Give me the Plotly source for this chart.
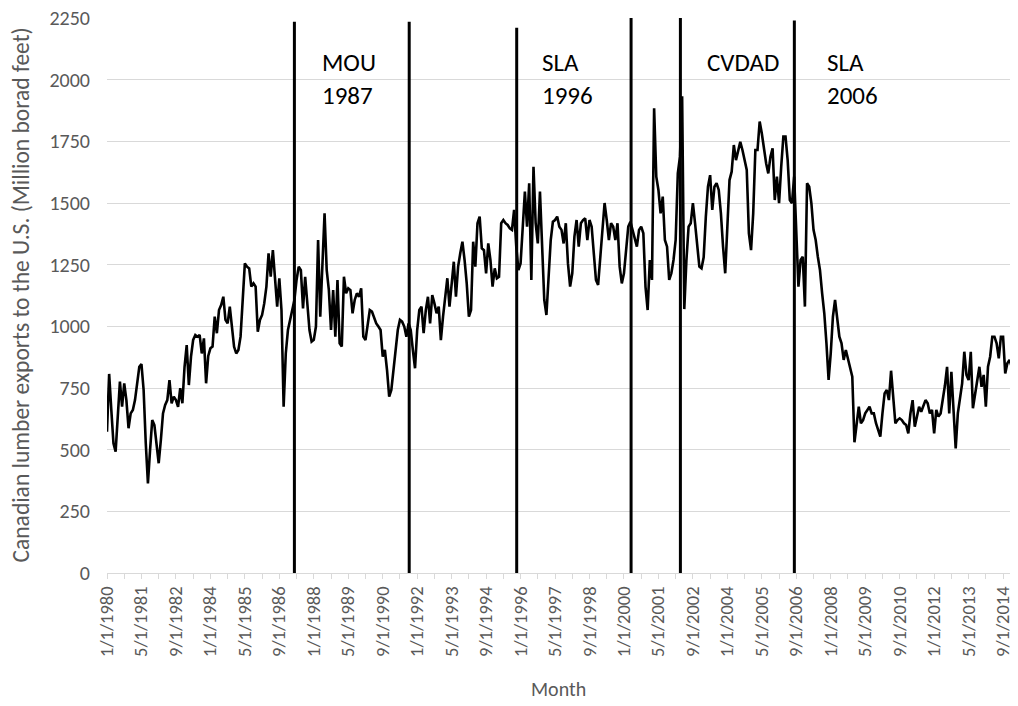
import plotly.graph_objects as go

start_year, start_month = 1980, 1
exports = [
    573, 807, 661, 526, 492, 634, 776, 674, 769, 701, 587, 647,
    661, 701, 769, 836, 847, 742, 526, 363, 499, 620, 600, 512,
    445, 539, 647, 681, 701, 782, 688, 715, 701, 674, 749, 688,
    836, 924, 762, 877, 945, 965, 958, 965, 890, 951, 769, 880,
    911, 918, 1039, 972, 1066, 1086, 1120, 1026, 1012, 1080, 985, 917,
    890, 904, 958, 1093, 1255, 1242, 1235, 1161, 1174, 1161, 978, 1026,
    1046, 1093, 1161, 1296, 1201, 1309, 1201, 1080, 1195, 1066, 674, 890,
    985, 1026, 1080, 1107, 1188, 1242, 1228, 1073, 1201, 1093, 985, 938,
    945, 999, 1350, 1039, 1255, 1458, 1228, 1147, 985, 1147, 958, 1188,
    931, 918, 1201, 1134, 1154, 1147, 1053, 1107, 1134, 1120, 1154, 958,
    944, 1012, 1066, 1060, 1039, 1012, 999, 985, 877, 904, 823, 715,
    742, 823, 904, 985, 1026, 1019, 999, 958, 1012, 985, 904, 830,
    985, 1066, 1080, 972, 1066, 1120, 1012, 1127, 1093, 1053, 1080, 944,
    1039, 1107, 1195, 1080, 1174, 1262, 1120, 1242, 1296, 1343, 1269, 1174,
    1039, 1066, 1343, 1242, 1418, 1445, 1316, 1309, 1215, 1336, 1269, 1161,
    1235, 1195, 1201, 1418, 1431, 1418, 1411, 1397, 1391, 1472, 1323, 1228,
    1255, 1418, 1546, 1404, 1580, 1188, 1647, 1418, 1336, 1546, 1323, 1107,
    1046, 1215, 1350, 1424, 1431, 1445, 1404, 1391, 1336, 1418, 1255, 1161,
    1215, 1364, 1431, 1323, 1418, 1431, 1438, 1350, 1431, 1404, 1310, 1188,
    1168, 1269, 1404, 1500, 1431, 1350, 1418, 1404, 1350, 1418, 1242, 1174,
    1215, 1310, 1404, 1424, 1391, 1350, 1323, 1391, 1404, 1377, 1160, 1066,
    1269, 1188, 1884, 1607, 1553, 1458, 1526, 1350, 1323, 1188, 1215, 1269,
    1350, 1620, 1688, 1933, 1070, 1269, 1404, 1418, 1499, 1418, 1323, 1242,
    1235, 1280, 1444, 1566, 1613, 1472, 1566, 1580, 1553, 1458, 1323, 1215,
    1404, 1593, 1627, 1735, 1674, 1715, 1748, 1715, 1674, 1634, 1377, 1309,
    1458, 1715, 1715, 1830, 1782, 1715, 1661, 1620, 1688, 1722, 1512, 1607,
    1499, 1647, 1769, 1769, 1674, 1512, 1499, 1607, 1377, 1161, 1269, 1282,
    1080, 1580, 1566, 1499, 1391, 1350, 1282, 1228, 1134, 1053, 931, 783,
    891, 1039, 1107, 1026, 958, 931, 864, 904, 864, 830, 796, 530,
    600, 674, 607, 620, 647, 661, 674, 647, 647, 607, 580, 553,
    647, 728, 742, 701, 820, 700, 607, 620, 627, 620, 607, 600,
    566, 647, 701, 593, 634, 674, 654, 674, 701, 688, 647, 661,
    566, 661, 634, 647, 701, 760, 836, 647, 816, 661, 505, 647,
    715, 769, 897, 803, 782, 897, 668, 728, 769, 836, 755, 803,
    674, 836, 877, 958, 958, 931, 870, 958, 958, 809, 850, 864,
    836, 1026, 904,
]

months = []
for i in range(len(exports)):
    m = (start_month - 1 + i) % 12 + 1
    y = start_year + (start_month - 1 + i) // 12
    months.append(f"{m}/1/{y}")

label_every = 16
tick_every = 8
tick_vals = months[::tick_every]
tick_text = [months[i] if i % label_every == 0 else "" for i in range(0, len(months), tick_every)]

# policy period boundaries (month position) and line top values
event_pos = [87, 140.3, 190.2, 243.3, 266.2, 319.1]
event_top = [2235, 2235, 2210, 2250, 2250, 2240]
event_labels = [("MOU<br>1987", 99), ("SLA<br>1996", 201), ("CVDAD", 277.5), ("SLA<br>2006", 333.5)]

FONT = "Carlito, Lato, Liberation Sans"
GREY = "#595959"

fig = go.Figure()
fig.add_trace(go.Scatter(
    x=months, y=exports, mode="lines",
    line=dict(color="black", width=2.6),
    showlegend=False,
))

for p, t in zip(event_pos, event_top):
    fig.add_shape(type="line", xref="x", yref="y", x0=p, x1=p, y0=0, y1=t,
                  line=dict(color="black", width=3))

for txt, p in event_labels:
    fig.add_annotation(x=p, y=2140, xref="x", yref="y", text=txt, showarrow=False,
                       xanchor="left", yanchor="top", align="left",
                       font=dict(family=FONT, size=25, color="black"))

# axis titles
fig.add_annotation(x=-0.0957, y=0.5, xref="paper", yref="paper",
                   text="Canadian lumber exports to the U.S. (Million borad feet)",
                   textangle=-90, showarrow=False, xanchor="center", yanchor="middle",
                   font=dict(family=FONT, size=23.5, color=GREY))
fig.add_annotation(x=0.4972, y=-0.209, xref="paper", yref="paper",
                   text="Month", showarrow=False, xanchor="center", yanchor="middle",
                   font=dict(family=FONT, size=20, color=GREY))

fig.update_layout(
    width=1010, height=698,
    margin=dict(l=99, r=2, t=10, b=133),
    plot_bgcolor="white", paper_bgcolor="white",
    font=dict(family=FONT, color=GREY),
)
fig.update_xaxes(
    type="category", range=[0, len(months) - 1], automargin=False,
    tickmode="array", tickvals=tick_vals, ticktext=tick_text,
    tickangle=-90, tickfont=dict(size=18.5, color=GREY),
    ticks="outside", ticklen=5, tickcolor="#d9d9d9", ticklabeloverflow="allow",
    showgrid=False, showline=True, linecolor="#d9d9d9", linewidth=1,
)
fig.update_yaxes(
    range=[0, 2250], dtick=250, tickformat="d", automargin=False,
    showgrid=True, gridcolor="#d9d9d9", gridwidth=1,
    zeroline=False, showline=False, ticklabeloverflow="allow",
    tickfont=dict(size=20, color=GREY), ticks="", ticklabelstandoff=16,
)

fig.write_html("out.html")
